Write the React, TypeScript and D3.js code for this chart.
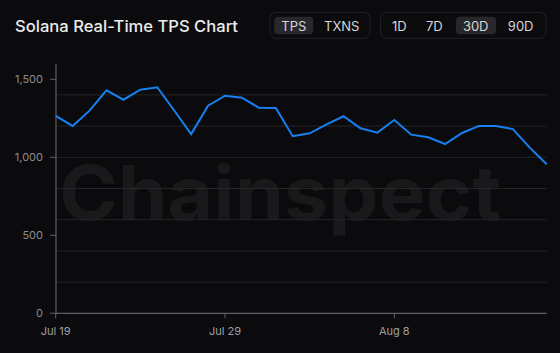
import React, { useEffect } from "react";
import * as d3 from "d3";

// daily average TPS, Jul 19 – Aug 17
const startDate = "2024-07-19";
const tpsValues = [
  1265, 1201, 1299, 1429, 1369, 1433, 1449, 1300, 1149, 1331,
  1395, 1382, 1318, 1316, 1135, 1154, 1211, 1263, 1186, 1158,
  1239, 1145, 1128, 1085, 1156, 1201, 1201, 1181, 1062, 955,
];
const xTickLabels = ["Jul 19", "Jul 29", "Aug 8"];
const yTickValues = [0, 500, 1000, 1500];
const gridValues = [200, 400, 600, 800, 1000, 1200, 1400];
const metricTabs = ["TPS", "TXNS"];
const rangeTabs = ["1D", "7D", "30D", "90D"];

const W = 560;
const H = 353;
const BG = "#0b0b0d";
const FONT = "Inter, 'Noto Sans', sans-serif";

export default function App() {
  useEffect(() => {
    document.body.style.margin = "0";
    document.body.style.background = BG;
  }, []);

  const parse = d3.timeParse("%Y-%m-%d");
  const t0 = parse(startDate) as Date;
  const data = tpsValues.map((v, i) => ({ date: d3.timeDay.offset(t0, i), value: v }));

  const x = d3
    .scaleTime()
    .domain([data[0].date, data[data.length - 1].date])
    .range([55.7, 546.7]);
  const y = d3.scaleLinear().domain([0, 1600]).range([313.3, 63.7]);

  const fmtTick = d3.timeFormat("%b %-d");
  const xTicks = data.map((d) => d.date).filter((d) => xTickLabels.includes(fmtTick(d)));

  const line = d3
    .line<{ date: Date; value: number }>()
    .x((d) => x(d.date))
    .y((d) => y(d.value));

  const fmtY = d3.format(",");

  return (
    <svg width={W} height={H} style={{ display: "block", background: BG }}>
      <rect width={W} height={H} fill={BG} />

      {/* header */}
      <text x={15} y={31.7} fill="#ececec" fontFamily={FONT} fontSize={16} fontWeight={500}
        textLength={223} lengthAdjust="spacingAndGlyphs">
        Solana Real-Time TPS Chart
      </text>

      <rect x={270} y={12.3} width={100} height={26} rx={6} fill="none" stroke="#232327" />
      <rect x={274.3} y={16.7} width={39} height={17.6} rx={4} fill="#28282c" />
      {metricTabs.map((t, i) => (
        <text key={t} x={[293.8, 341.7][i]} y={30.5} textAnchor="middle" fill="#d6d6d6"
          fontFamily={FONT} fontSize={13}>
          {t}
        </text>
      ))}

      <rect x={380.7} y={12.3} width={165.3} height={26} rx={6} fill="none" stroke="#232327" />
      <rect x={456} y={16.7} width={40} height={17.6} rx={4} fill="#28282c" />
      {rangeTabs.map((t, i) => (
        <text key={t} x={[399.3, 434.3, 475.7, 520.7][i]} y={30.5} textAnchor="middle"
          fill="#d6d6d6" fontFamily={FONT} fontSize={13}>
          {t}
        </text>
      ))}

      {/* watermark */}
      <text x={59.3} y={220} fill="#19191b" fontFamily={FONT} fontSize={75} fontWeight={700}
        textLength={442} lengthAdjust="spacingAndGlyphs">
        Chainspect
      </text>

      {/* grid */}
      {gridValues.map((v) => (
        <line key={v} x1={56} x2={546.7} y1={y(v)} y2={y(v)} stroke="#262629" strokeWidth={1} />
      ))}

      {/* y axis */}
      <line x1={56} x2={56} y1={y(1600)} y2={y(0)} stroke="#5f5f63" strokeWidth={1.2} />
      {yTickValues.map((v) => (
        <g key={v}>
          <line x1={50} x2={56} y1={y(v)} y2={y(v)} stroke="#5f5f63" />
          <text x={43} y={y(v)} dy="0.35em" textAnchor="end" fill="#8c8c90"
            fontFamily={FONT} fontSize={11}>
            {fmtY(v)}
          </text>
        </g>
      ))}

      {/* x axis */}
      <line x1={56} x2={546.7} y1={y(0)} y2={y(0)} stroke="#5f5f63" strokeWidth={1.2} />
      {xTicks.map((d) => (
        <g key={+d}>
          <line x1={x(d)} x2={x(d)} y1={y(0)} y2={y(0) + 5} stroke="#5f5f63" />
          <text x={x(d)} y={335} textAnchor="middle" fill="#a0a0a4" fontFamily={FONT} fontSize={11}>
            {fmtTick(d)}
          </text>
        </g>
      ))}

      <path d={line(data) ?? ""} fill="none" stroke="#1680f0" strokeWidth={2}
        strokeLinejoin="miter" />
    </svg>
  );
}
